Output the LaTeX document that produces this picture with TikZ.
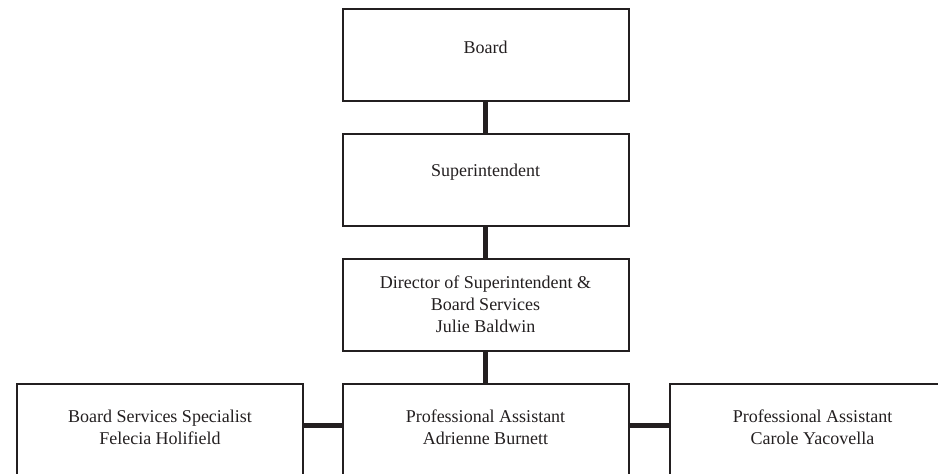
\documentclass[tikz,border=0pt]{standalone}
\usepackage{fontspec}
\setmainfont{Liberation Serif}
\definecolor{ink}{HTML}{231F20}
\begin{document}
\begin{tikzpicture}[x=1pt,y=-1pt,
  box/.style={draw=ink, line width=2pt, rectangle, minimum width=286pt, minimum height=92pt, inner sep=0pt},
  txt/.style={text=ink, font=\fontsize{18}{22}\selectfont, align=center, inner sep=0pt},
  conn/.style={draw=ink, line width=5pt}]
\useasboundingbox (0,0) rectangle (938,474);
\clip (0,0) rectangle (938,474);
\node[box] (board) at (485.5,54.5) {};
\node[box] (super) at (485.5,180) {};
\node[box] (dir) at (485.5,305) {};
\node[box] (left) at (160,430) {};
\node[box] (mid) at (485.5,430) {};
\node[box] (right) at (812.5,430) {};
\node[txt] (tboard) at (485.5,47) {Board};
\node[txt] (tsuper) at (485.5,172) {Superintendent};
\node[txt] (tdir) at (485.5,304) {Director of Superintendent \&\\Board Services\\Julie Baldwin};
\node[txt] (tleft) at (160,427) {Board Services Specialist\\Felecia Holifield};
\node[txt] (tmid) at (485.5,427) {Professional Assistant\\Adrienne Burnett};
\node[txt] (tright) at (812.5,427) {Professional Assistant\\Carole Yacovella};
\draw[conn] (board.south) -- (super.north);
\draw[conn] (super.south) -- (dir.north);
\draw[conn] (dir.south) -- (mid.north);
\draw[conn] ([yshift=5pt]left.east) -- ([yshift=5pt]mid.west);
\draw[conn] ([yshift=5pt]mid.east) -- ([yshift=5pt]right.west);
\end{tikzpicture}
\end{document}
